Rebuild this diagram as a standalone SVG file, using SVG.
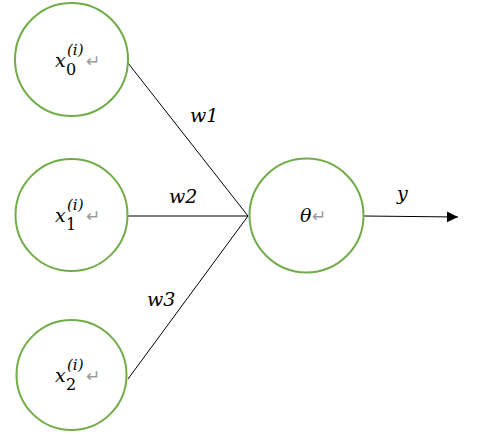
<svg xmlns="http://www.w3.org/2000/svg" width="480" height="438" viewBox="0 0 480 438">
<defs>
<style>
.node{fill:#fff;stroke:#70ad47;stroke-width:2}
.edge{stroke:#000;stroke-width:1;fill:none}
.m{font-family:"DejaVu Serif","Liberation Serif",serif;font-style:italic;fill:#000}
.big{font-size:19px}
.sub{font-size:16px;font-style:normal}
.sup{font-size:15px}
.ret{font-family:"DejaVu Sans",sans-serif;font-size:17px;fill:#999}
</style>
<marker id="arr" markerWidth="12" markerHeight="12" refX="11" refY="6" orient="auto" markerUnits="userSpaceOnUse">
<path d="M0,0.5 L11,6 L0,11.5 Z" fill="#000"/>
</marker>
</defs>
<rect width="480" height="438" fill="#fff"/>
<g id="connectors">
<line class="edge" x1="128" y1="63" x2="248" y2="216"/>
<line class="edge" x1="128" y1="216" x2="248" y2="216"/>
<line class="edge" x1="128" y1="379" x2="248" y2="216"/>
<line class="edge" x1="364" y1="216" x2="458" y2="217" marker-end="url(#arr)"/>
<text class="m big" x="190" y="122">w1</text>
<text class="m big" x="169" y="203">w2</text>
<text class="m big" x="147" y="306">w3</text>
<text class="m big" x="397" y="200">y</text>
</g>
<g id="x0">
<circle class="node" cx="71.5" cy="59.5" r="56.5"/>
<text class="m big" x="55" y="67">x</text>
<text class="m sub" x="66" y="75">0</text>
<text class="m sup" x="67" y="55">(i)</text>
<text class="ret" x="86" y="67">↵</text>
</g>
<g id="x1">
<circle class="node" cx="71.5" cy="215" r="56"/>
<text class="m big" x="55" y="222">x</text>
<text class="m sub" x="66" y="230">1</text>
<text class="m sup" x="67" y="210">(i)</text>
<text class="ret" x="86" y="222">↵</text>
</g>
<g id="x2">
<circle class="node" cx="71.5" cy="375" r="55"/>
<text class="m big" x="55" y="382">x</text>
<text class="m sub" x="66" y="390">2</text>
<text class="m sup" x="67" y="370">(i)</text>
<text class="ret" x="86" y="382">↵</text>
</g>
<g id="theta">
<circle class="node" cx="306.5" cy="215.5" r="57"/>
<text class="m big" x="300" y="222">θ</text>
<text class="ret" x="312" y="222">↵</text>
</g>
</svg>
